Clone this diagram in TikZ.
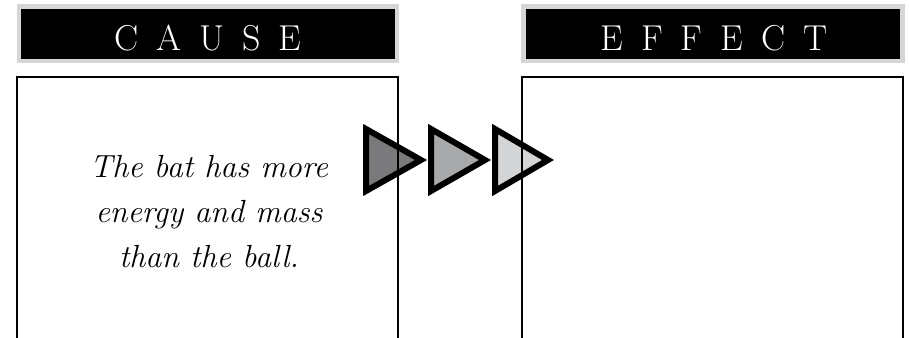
\documentclass[tikz,border=0pt]{standalone}
\usepackage{fontspec}
\setmainfont{Latin Modern Roman}
\definecolor{shadegray}{HTML}{D5D6D8}
\definecolor{arrowdark}{HTML}{7A7A7C}
\definecolor{arrowmid}{HTML}{A8A9AB}
\definecolor{arrowlight}{HTML}{D4D5D7}
\newcommand{\ls}{\hspace{18pt}}
\begin{document}
\begin{tikzpicture}[x=1pt,y=-1pt,
  hdrshade/.style={fill=shadegray, draw=none},
  hdrbar/.style={fill=black, draw=none},
  hdrtext/.style={text=white, anchor=base, inner sep=0pt, font=\fontsize{36}{40}\selectfont},
  panel/.style={draw=black, line width=2pt},
  chevron/.style={draw=black, line width=6pt, line join=miter, miter limit=10},
  bodytext/.style={align=center, inner sep=0pt, font=\fontsize{32}{45}\selectfont\itshape},
]
\useasboundingbox (0,0) rectangle (909,337);
\clip (0,0) rectangle (909,337);

% header bars
\fill[hdrshade] (17,4) rectangle (399,63);
\fill[hdrbar] (21,9) rectangle (395,59);
\node[hdrtext] (causehdr) at (208,51) {C\ls A\ls U\ls S\ls E};

\fill[hdrshade] (521,4) rectangle (905,63);
\fill[hdrbar] (526,9) rectangle (900,59);
\node[hdrtext] (effecthdr) at (714,51) {E\ls F\ls F\ls E\ls C\ls T};

% three shaded arrowheads between the panels
\draw[chevron, fill=arrowdark]  (366,129) -- (366,191) -- (421,160) -- cycle;
\draw[chevron, fill=arrowmid]   (431,129) -- (431,191) -- (485,160) -- cycle;
\draw[chevron, fill=arrowlight] (495,129) -- (495,191) -- (548,160) -- cycle;

% panels (run past the lower edge)
\draw[panel] (17,77) rectangle (398,360);
\draw[panel] (522,77) rectangle (903,360);

\node[bodytext, anchor=north] (causetext) at (209,155)
  {The bat has more\\energy and mass\\than the ball.};
\end{tikzpicture}
\end{document}
